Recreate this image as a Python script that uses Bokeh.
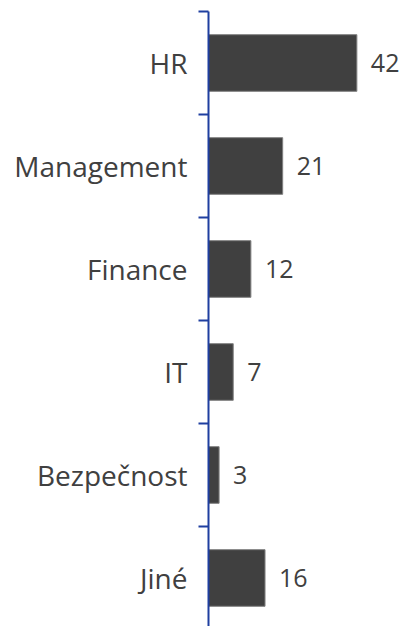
from bokeh.plotting import figure
from bokeh.models import Range1d, FixedTicker, ColumnDataSource, LabelSet
from bokeh.core.properties import value
from bokeh.embed import file_html
from bokeh.resources import INLINE

categories = ["HR", "Management", "Finance", "IT", "Bezpečnost", "Jiné"]
values = [42, 21, 12, 7, 3, 16]

n = len(categories)
ypos = [n - i - 0.5 for i in range(n)]
labels = [str(v) for v in values]

src = ColumnDataSource(dict(y=ypos, v=values, lab=labels))

p = figure(width=409, height=626, output_backend="svg", toolbar_location=None,
           x_range=Range1d(0, 56.9), y_range=Range1d(0.029, 6),
           min_border_left=208, min_border_right=0, min_border_top=11, min_border_bottom=0)

p.hbar(y="y", right="v", left=0, height=0.55, source=src,
       fill_color="#404040", line_color="#808080", line_width=1)

lbl = LabelSet(x="v", y="y", text="lab", source=src, x_offset=14,
               text_align="left", text_baseline="middle",
               text_font=value("Open Sans"), text_font_size=value("25px"),
               text_color=value("#404040"))
p.add_layout(lbl)

p.xaxis.visible = False
p.xgrid.visible = False
p.ygrid.visible = False
p.outline_line_color = None

ax = p.yaxis[0]
ax.ticker = FixedTicker(ticks=ypos, minor_ticks=list(range(n + 1)))
ax.major_label_overrides = {y: c for y, c in zip(ypos, categories)}
ax.major_tick_out = 0
ax.major_tick_in = 0
ax.minor_tick_out = 10
ax.minor_tick_in = 0
ax.minor_tick_line_color = "#1f3fa0"
ax.minor_tick_line_width = 2
ax.axis_line_color = "#1f3fa0"
ax.axis_line_width = 2
ax.major_label_standoff = 11
ax.major_label_text_font = "Open Sans"
ax.major_label_text_font_size = "28px"
ax.major_label_text_color = "#404040"

open("out.html", "w").write(file_html(p, INLINE))
